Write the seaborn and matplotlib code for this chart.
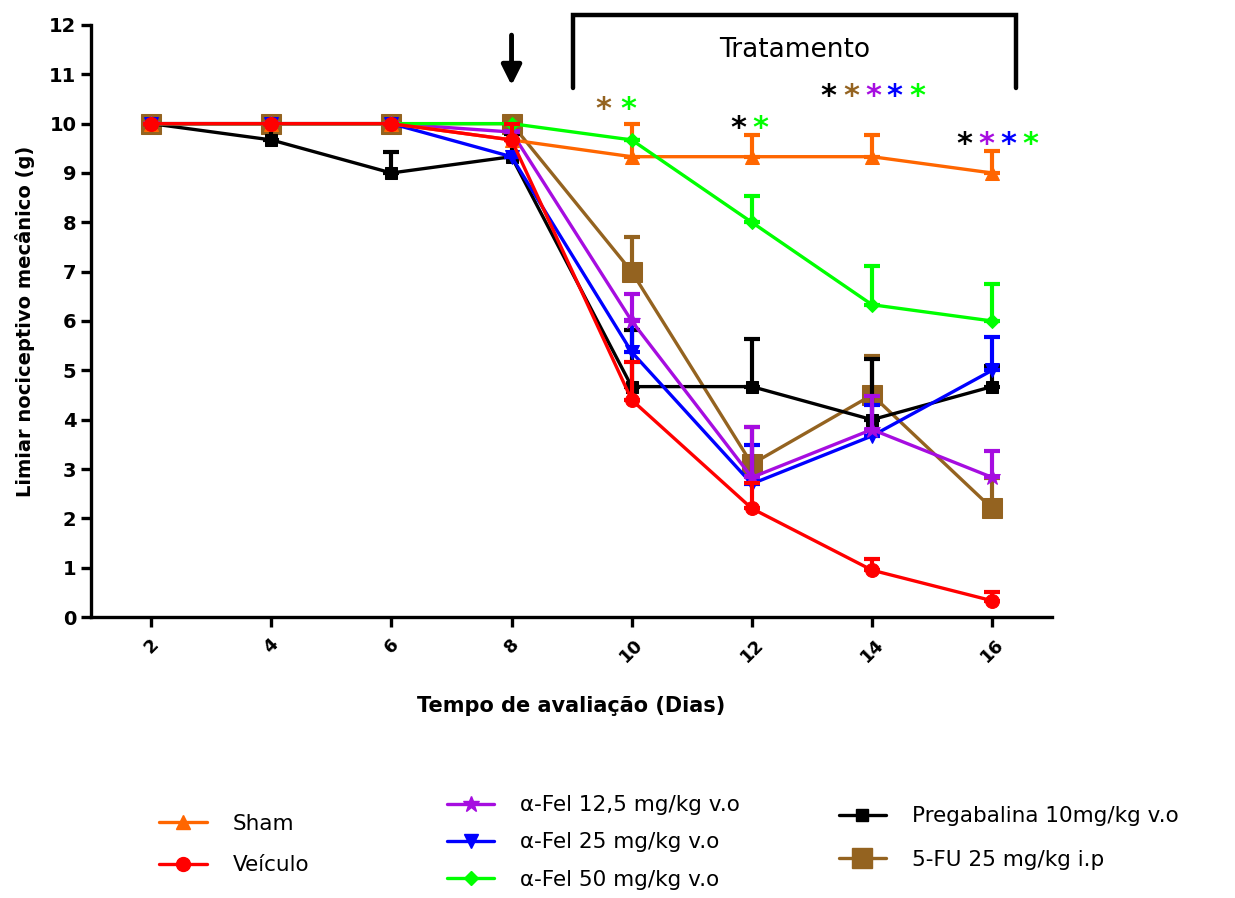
import matplotlib
matplotlib.use("Agg")
import matplotlib.pyplot as plt
from matplotlib.lines import Line2D
import seaborn as sns
import pandas as pd

# Evaluation days
days = [2, 4, 6, 8, 10, 12, 14, 16]

# Group means (g)
sham = [10, 10, 10, 9.67, 9.33, 9.33, 9.33, 9.0]
veiculo = [10, 10, 10, 9.67, 4.4, 2.2, 0.95, 0.33]
fel_12 = [10, 10, 10, 9.83, 6.0, 2.83, 3.8, 2.83]
fel_25 = [10, 10, 10, 9.33, 5.37, 2.7, 3.67, 5.0]
fel_50 = [10, 10, 10, 10, 9.67, 8.0, 6.33, 6.0]
prega = [10, 9.67, 9.0, 9.33, 4.67, 4.67, 4.0, 4.67]
fu5 = [10, 10, 10, 10, 7.0, 3.1, 4.5, 2.2]

# Standard errors (upper bars)
sham_sem = [0, 0, 0, 0, 0.67, 0.44, 0.44, 0.44]
veiculo_sem = [0, 0, 0, 0.33, 0.77, 0.52, 0.22, 0.17]
fel_12_sem = [0, 0, 0, 0, 0.55, 1.02, 0.67, 0.53]
fel_25_sem = [0, 0, 0, 0, 0.66, 0.79, 0.62, 0.68]
fel_50_sem = [0, 0, 0, 0, 0, 0.53, 0.79, 0.74]
prega_sem = [0, 0.33, 0.43, 0.47, 1.15, 0.97, 1.23, 0.41]
fu5_sem = [0, 0, 0, 0, 0.7, 0.75, 0.8, 0.62]

labels = ["Sham", "Veículo", "α-Fel 12,5 mg/kg v.o", "α-Fel 25 mg/kg v.o",
          "α-Fel 50 mg/kg v.o", "Pregabalina 10mg/kg v.o", "5-FU 25 mg/kg i.p"]
means = [sham, veiculo, fel_12, fel_25, fel_50, prega, fu5]
sems = [sham_sem, veiculo_sem, fel_12_sem, fel_25_sem, fel_50_sem, prega_sem, fu5_sem]
colors = ["#FF6600", "#FF0000", "#A60DE0", "#0000FF", "#00FF00", "#000000", "#946320"]
markers = ["^", "o", "*", "v", "D", "s", "s"]
msizes = [10, 10, 12, 10, 7, 9, 14]
zorders = [6, 9, 5, 4, 7, 3, 2]

# Significance stars: (x, y, color)
star_x = [9.53, 9.95, 11.77, 12.15, 13.27, 13.65, 14.02, 14.38, 14.75,
          15.53, 15.9, 16.27, 16.63]
star_y = [10.28, 10.28, 9.91, 9.91, 10.54, 10.54, 10.54, 10.54, 10.54,
          9.57, 9.57, 9.57, 9.57]
star_c = ["#946320", "#00FF00", "#000000", "#00FF00", "#000000", "#946320",
          "#A60DE0", "#0000FF", "#00FF00", "#000000", "#A60DE0", "#0000FF", "#00FF00"]

sns.set_theme(style="white")
plt.rcParams["font.family"] = ["DejaVu Sans"]
plt.rcParams.update({"text.color": "black", "axes.labelcolor": "black",
                     "xtick.color": "black", "ytick.color": "black"})

fig = plt.figure(figsize=(12.35, 8.98), dpi=100)
ax = fig.add_axes([0.0737, 0.3129, 0.7783, 0.6593])

rows = []
for lab, m in zip(labels, means):
    for d, v in zip(days, m):
        rows.append({"dia": d, "valor": v, "grupo": lab})
df = pd.DataFrame(rows)

for lab, col, mk, ms, z, sem in zip(labels, colors, markers, msizes, zorders, sems):
    sub = df[df["grupo"] == lab]
    sns.lineplot(data=sub, x="dia", y="valor", color=col, marker=mk,
                 markersize=ms, markeredgecolor=col, linewidth=2.4,
                 ax=ax, zorder=z, legend=False)
    lower = [0] * len(sem)
    ax.errorbar(sub["dia"], sub["valor"], yerr=[lower, sem], fmt="none",
                ecolor=col, elinewidth=3, capsize=6, capthick=3, zorder=z)

ax.set_xlim(1, 17)
ax.set_ylim(0, 12)
ax.set_xticks(days)
ax.set_yticks(range(0, 13))
ax.set_xticklabels([str(d) for d in days], rotation=45, fontweight="bold",
                   fontsize=13)
ax.set_yticklabels([str(v) for v in range(0, 13)], fontweight="bold", fontsize=14)
for s in ["top", "right"]:
    ax.spines[s].set_visible(False)
for s in ["left", "bottom"]:
    ax.spines[s].set_linewidth(2.4)
    ax.spines[s].set_color("black")
ax.tick_params(axis="both", direction="out", length=7, width=2.4, color="black",
               labelcolor="black", left=True, bottom=True)
ax.tick_params(axis="x", pad=6)
ax.set_xlabel("Tempo de avaliação (Dias)", fontsize=15, fontweight="bold",
              labelpad=22, color="black")
ax.set_ylabel("Limiar nociceptivo mecânico (g)", fontsize=14, fontweight="bold",
              labelpad=10, color="black")

# Induction arrow
ax.annotate("", xy=(8, 10.72), xytext=(8, 11.85),
            arrowprops=dict(arrowstyle="-|>,head_width=0.5,head_length=1.0",
                            color="black", lw=3.5), annotation_clip=False)

# Treatment bracket
ax.plot([9.03, 9.03, 16.4, 16.4], [10.72, 12.2, 12.2, 10.72], color="black",
        lw=3.2, clip_on=False, solid_joinstyle="miter")
ax.text(12.72, 11.5, "Tratamento", ha="center", va="center", fontsize=19,
        color="black")

for x, y, c in zip(star_x, star_y, star_c):
    ax.text(x, y, "*", color=c, ha="center", va="center", fontsize=22,
            fontweight="bold")

# Legend in three groups
def handle(i):
    return Line2D([0], [0], color=colors[i], marker=markers[i],
                  markersize=msizes[i], markeredgecolor=colors[i], lw=2.4)

leg_kw = dict(frameon=False, fontsize=15.5, handlelength=2.2, handletextpad=1.2,
              labelspacing=1.0, borderaxespad=0, labelcolor="black")
fig.legend([handle(0), handle(1)], labels[0:2], loc="upper left",
           bbox_to_anchor=(0.122, 0.1035), **leg_kw)
kw2 = dict(leg_kw)
kw2["labelspacing"] = 0.8
fig.legend([handle(2), handle(3), handle(4)], labels[2:5], loc="upper left",
           bbox_to_anchor=(0.355, 0.124), **kw2)
kw3 = dict(leg_kw)
kw3["labelspacing"] = 1.1
fig.legend([handle(5), handle(6)], labels[5:7], loc="upper left",
           bbox_to_anchor=(0.672, 0.112), **kw3)

fig.savefig("out.png", dpi=100)
